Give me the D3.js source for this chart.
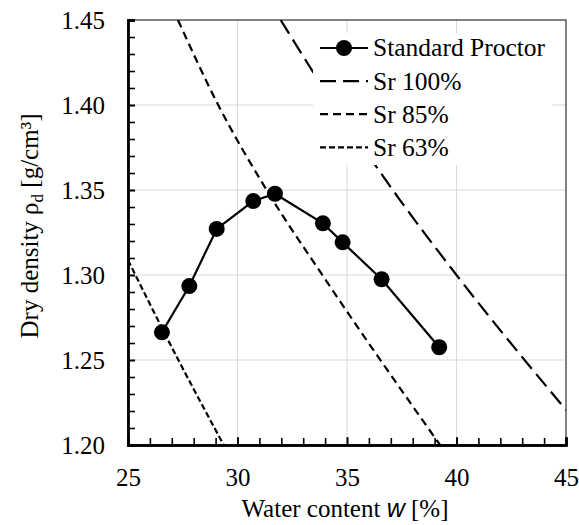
<!DOCTYPE html>
<html>
<head>
<meta charset="utf-8">
<script src="https://cdn.jsdelivr.net/npm/d3@7"></script>
<style>
  body { margin: 0; background: #fff; }
  svg, svg text { font-family: "Liberation Serif", "Times New Roman", serif; }
</style>
</head>
<body>
<svg id="chart" width="579" height="525"></svg>
<script>
// standard proctor test
const waterContent = [26.55, 27.80, 29.05, 30.72, 31.71, 33.90, 34.80, 36.58, 39.21];
const dryDensity = [1.2663, 1.2935, 1.3271, 1.3435, 1.3478, 1.3304, 1.3192, 1.2975, 1.2575];

// saturation lines
const sr100W = [31.97, 33.30, 37.42, 40.0, 45.0];
const sr100Rho = [1.45, 1.4225, 1.3441, 1.30, 1.2206];
const sr85W = [27.28, 29.12, 31.33, 34.13, 39.25];
const sr85Rho = [1.45, 1.40, 1.35, 1.2951, 1.20];
const sr63W = [25.0, 27.3, 29.37];
const sr63Rho = [1.3088, 1.25, 1.20];

const xTicks = [25, 30, 35, 40, 45];
const yTicks = [1.20, 1.25, 1.30, 1.35, 1.40, 1.45];
const legendLabels = ["Standard Proctor", "Sr 100%", "Sr 85%", "Sr 63%"];

const pLeft = 128, pRight = 566, pTop = 20, pBottom = 445;
const x = d3.scaleLinear([25, 45], [pLeft, pRight]);
const y = d3.scaleLinear([1.20, 1.45], [pBottom, pTop]);

const svg = d3.select("#chart");

svg.append("defs").append("clipPath").attr("id", "plot")
    .append("rect").attr("x", pLeft).attr("y", pTop)
    .attr("width", pRight - pLeft).attr("height", pBottom - pTop);

// gridlines
svg.append("g").selectAll("line").data(yTicks.slice(1, -1)).join("line")
    .attr("x1", pLeft).attr("x2", pRight)
    .attr("y1", d => y(d)).attr("y2", d => y(d))
    .attr("stroke", "#d9d9d9").attr("stroke-width", 1);
svg.append("g").selectAll("line").data(xTicks.slice(1, -1)).join("line")
    .attr("y1", pTop).attr("y2", pBottom)
    .attr("x1", d => x(d)).attr("x2", d => x(d))
    .attr("stroke", "#d9d9d9").attr("stroke-width", 1);

// frame
svg.append("rect").attr("x", pLeft).attr("y", pTop)
    .attr("width", pRight - pLeft).attr("height", pBottom - pTop)
    .attr("fill", "none").attr("stroke", "#404040").attr("stroke-width", 1.3);

const line = d3.line().x(d => x(d[0])).y(d => y(d[1])).curve(d3.curveMonotoneX);

const satLines = [
  { w: sr100W, rho: sr100Rho, dash: "16,7" },
  { w: sr85W, rho: sr85Rho, dash: "8,5" },
  { w: sr63W, rho: sr63Rho, dash: "6,3" }
];

const lineGroup = svg.append("g").attr("clip-path", "url(#plot)");
lineGroup.selectAll("path").data(satLines).join("path")
    .attr("d", d => line(d3.zip(d.w, d.rho)))
    .attr("fill", "none").attr("stroke", "#000")
    .attr("stroke-width", 2.2)
    .attr("stroke-dasharray", d => d.dash);

const proctor = d3.zip(waterContent, dryDensity);
svg.append("path")
    .attr("d", d3.line().x(d => x(d[0])).y(d => y(d[1]))(proctor))
    .attr("fill", "none").attr("stroke", "#000").attr("stroke-width", 2.2);
svg.append("g").selectAll("circle").data(proctor).join("circle")
    .attr("cx", d => x(d[0])).attr("cy", d => y(d[1]))
    .attr("r", 8).attr("fill", "#000");

// axes
const yAxis = svg.append("g").attr("transform", `translate(${pLeft},0)`)
    .call(d3.axisLeft(y).tickValues(yTicks).tickSize(-7).tickPadding(23)
        .tickFormat(d3.format(".2f")));
svg.append("g").attr("transform", `translate(${pLeft},0)`)
    .call(d3.axisLeft(y).tickValues(d3.range(120, 146).map(v => v / 100))
        .tickSize(-7).tickFormat(""));
const xAxis = svg.append("g").attr("transform", `translate(0,${pBottom})`)
    .call(d3.axisBottom(x).tickValues(xTicks).tickSize(-8).tickPadding(23)
        .tickFormat(d3.format("d")));
svg.append("g").attr("transform", `translate(0,${pBottom})`)
    .call(d3.axisBottom(x).tickValues(d3.range(25, 46)).tickSize(-7).tickFormat(""));

svg.selectAll(".domain").attr("stroke", "#000").attr("stroke-width", 2.4);
svg.selectAll(".tick line").attr("stroke", "#000").attr("stroke-width", 1.6);
svg.selectAll(".tick text")
    .style("font-family", "'Liberation Serif', 'Times New Roman', serif")
    .attr("font-size", 25).attr("fill", "#000");
yAxis.selectAll(".tick text").attr("dy", "0.33em");
xAxis.selectAll(".tick text").attr("dy", "0.71em");

// axis titles
const xt = svg.append("text").attr("x", 345).attr("y", 517)
    .attr("text-anchor", "middle").attr("font-size", 25);
xt.append("tspan").text("Water content ");
xt.append("tspan").style("font-family", "'Liberation Sans', Arial, sans-serif")
    .attr("font-style", "italic").text("w");
xt.append("tspan").text(" [%]");

const yt = svg.append("text").attr("transform", "translate(38,226) rotate(-90)")
    .attr("text-anchor", "middle").attr("font-size", 25);
yt.append("tspan").text("Dry density ρ");
yt.append("tspan").attr("font-size", 17).attr("dy", 5).text("d");
yt.append("tspan").attr("dy", -5).text(" [g/cm³]");

// legend
const legend = svg.append("g");
legend.append("rect").attr("x", 313).attr("y", 33)
    .attr("width", 239).attr("height", 132).attr("fill", "#fff");
const rows = legend.selectAll("g").data(legendLabels).join("g")
    .attr("transform", (d, i) => `translate(0,${48 + i * 33.1})`);
rows.append("line").attr("x1", 320).attr("x2", 368)
    .attr("stroke", "#000").attr("stroke-width", 2.2)
    .attr("stroke-dasharray", (d, i) => i === 0 ? null : satLines[i - 1].dash);
rows.filter((d, i) => i === 0).append("circle")
    .attr("cx", 344).attr("r", 8).attr("fill", "#000");
rows.append("text").attr("x", 373).attr("dy", "0.33em")
    .attr("font-size", 25.5).text(d => d);
</script>
</body>
</html>
